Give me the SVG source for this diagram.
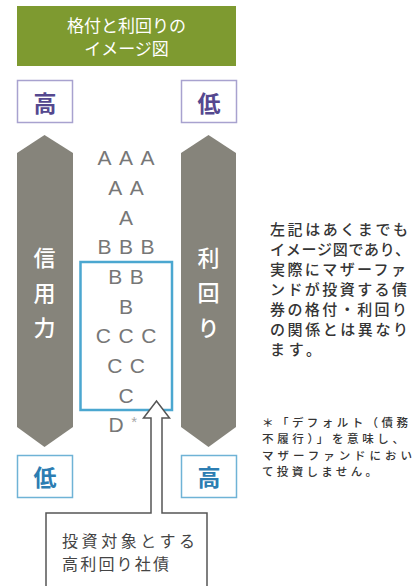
<svg xmlns="http://www.w3.org/2000/svg" width="419" height="586" viewBox="0 0 419 586">
<style>
.jp{font-family:"Noto Sans CJK JP","Noto Sans",sans-serif}
.rate{font-family:"Liberation Sans",Arial,sans-serif;font-size:21px;fill:#777777;text-anchor:middle;letter-spacing:7.5px}
.vert{font-family:"Noto Sans CJK JP",sans-serif;font-size:22px;fill:#ffffff;text-anchor:middle;font-weight:500}
.box{font-family:"Noto Sans CJK JP",sans-serif;font-size:23px;text-anchor:middle;font-weight:bold}
.note{font-family:"Noto Sans CJK JP",sans-serif;font-size:15px;fill:#353535;font-weight:500}
.foot{font-family:"Noto Sans CJK JP",sans-serif;font-size:11.5px;fill:#353535;font-weight:500}
.grey{fill:#86847b}
</style>
<rect width="419" height="586" fill="#ffffff"/>
<g id="title">
<rect x="17" y="6" width="219" height="60" fill="#7e9a30"/>
<text class="jp" x="126.5" y="31.5" font-size="17" fill="#ffffff" text-anchor="middle">格付と利回りの</text>
<text class="jp" x="126.5" y="55" font-size="17" fill="#ffffff" text-anchor="middle">イメージ図</text>
</g>
<g id="top-high">
<rect x="17.5" y="80.5" width="55" height="42" fill="#ffffff" stroke="#a8a2cf" stroke-width="1.5"/>
<text class="box" x="45" y="112" fill="#55488f">高</text>
</g>
<g id="top-low">
<rect x="181.5" y="80.5" width="55" height="42" fill="#ffffff" stroke="#a8a2cf" stroke-width="1.5"/>
<text class="box" x="209" y="112" fill="#55488f">低</text>
</g>
<g id="credit-arrow">
<polygon class="grey" points="44.5,135 73,153 73,427 44.5,447 17,427 17,153"/>
<text class="vert" x="44.5" y="266">信</text>
<text class="vert" x="44.5" y="301">用</text>
<text class="vert" x="44.5" y="336">力</text>
</g>
<g id="yield-arrow">
<polygon class="grey" points="208.5,135 236,153 236,427 208.5,447 181,427 181,153"/>
<text class="vert" x="208.5" y="266">利</text>
<text class="vert" x="208.5" y="301">回</text>
<text class="vert" x="208.5" y="336">り</text>
</g>
<g id="ratings">
<text class="rate" x="129.8" y="165">AAA</text>
<text class="rate" x="129.8" y="195">AA</text>
<text class="rate" x="129.8" y="224.5">A</text>
<text class="rate" x="129.8" y="254">BBB</text>
<text class="rate" x="129.8" y="284">BB</text>
<text class="rate" x="129.8" y="313.5">B</text>
<text class="rate" x="129.8" y="343">CCC</text>
<text class="rate" x="129.8" y="373">CC</text>
<text class="rate" x="129.8" y="402.5">C</text>
<text class="rate" x="126.5" y="432" letter-spacing="0">D<tspan fill="#a8a8a8" font-size="15" dy="-5">*</tspan></text>
</g>
<g id="high-yield-range">
<rect x="80.5" y="262" width="91.5" height="148" fill="none" stroke="#4ba7d0" stroke-width="2.5"/>
</g>
<g id="bottom-low">
<rect x="17.5" y="455.5" width="55" height="42" fill="#ffffff" stroke="#6fb3d6" stroke-width="1.5"/>
<text class="box" x="45" y="486" fill="#2c7db2">低</text>
</g>
<g id="bottom-high">
<rect x="181.5" y="455.5" width="55" height="42" fill="#ffffff" stroke="#6fb3d6" stroke-width="1.5"/>
<text class="box" x="209" y="486" fill="#2c7db2">高</text>
</g>
<g id="connectors">
<path d="M46,592 V513 H151 V418 H143.5 L156.5,401 L169.5,418 H162 V513 H207 V592" fill="#ffffff" stroke="#555555" stroke-width="1.5" stroke-linejoin="miter"/>
</g>
<g id="callout">
<text class="jp" x="62" y="546.5" font-size="16" fill="#444444" textLength="133" lengthAdjust="spacing">投資対象とする</text>
<text class="jp" x="62" y="569.5" font-size="16" fill="#444444" textLength="107" lengthAdjust="spacing">高利回り社債</text>
</g>
<g id="note">
<text class="note" x="270" y="235" textLength="138" lengthAdjust="spacing">左記はあくまでも</text>
<text class="note" x="270" y="255" textLength="140" lengthAdjust="spacing">イメージ図であり、</text>
<text class="note" x="270" y="275" textLength="136" lengthAdjust="spacing">実際にマザーファ</text>
<text class="note" x="270" y="295" textLength="137" lengthAdjust="spacing">ンドが投資する債</text>
<text class="note" x="270" y="315" textLength="137" lengthAdjust="spacing">券の格付・利回り</text>
<text class="note" x="270" y="335" textLength="138" lengthAdjust="spacing">の関係とは異なり</text>
<text class="note" x="270" y="355" textLength="51" lengthAdjust="spacing">ます。</text>
</g>
<g id="footnote">
<text class="foot" x="262" y="426.5" textLength="146" lengthAdjust="spacing">＊「デフォルト（債務</text>
<text class="foot" x="262" y="443" textLength="142" lengthAdjust="spacing">不履行）」を意味し、</text>
<text class="foot" x="262" y="459.5" textLength="150" lengthAdjust="spacing">マザーファンドにおい</text>
<text class="foot" x="262" y="476" textLength="115" lengthAdjust="spacing">て投資しません。</text>
</g>
</svg>
